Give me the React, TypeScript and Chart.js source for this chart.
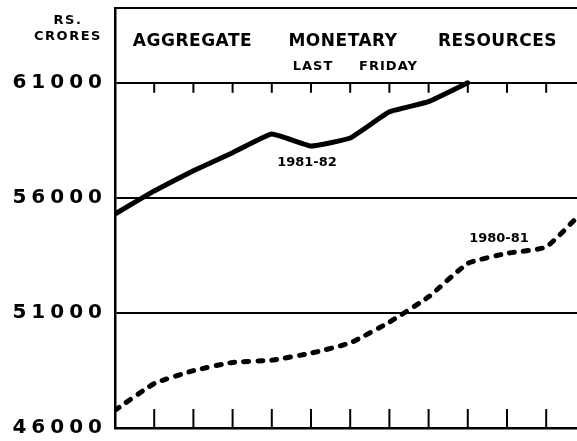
import React, { useEffect, useRef } from "react";
import { Chart, registerables } from "chart.js";

Chart.register(...registerables);

// Months of the financial year (April to April); only used as the x positions.
const months = ["Apr", "May", "Jun", "Jul", "Aug", "Sep", "Oct", "Nov", "Dec", "Jan", "Feb", "Mar", "Apr"];

// Aggregate monetary resources, Rs. crores (last Friday of each month)
const series8182 = [55300, 56300, 57180, 57960, 58770, 58250, 58600, 59740, 60180, 61000];
const series8081 = [46770, 47930, 48490, 48850, 48950, 49250, 49700, 50600, 51700, 53150, 53590, 53870, 55530];

const yTicks = [46000, 51000, 56000, 61000];
const yMin = 46000;
const yMax = 64250;
const xVisibleMax = 11.786;

const titleWords = ["AGGREGATE", "MONETARY", "RESOURCES"];
const titleX = [1.977, 5.816, 9.758];
const titleY = 62790;
const subWords = ["LAST", "FRIDAY"];
const subX = [5.05, 6.977];
const subY = 61690;
const seriesLabels = ["1981-82", "1980-81"];
const seriesLabelX = [4.898, 9.796];
const seriesLabelY = [57513, 54208];
const unitLines = ["RS.", "CRORES"];
const unitY = [63690, 62990];

const FONT = "'DejaVu Sans', sans-serif";

export default function App() {
  const ref = useRef<HTMLCanvasElement | null>(null);

  useEffect(() => {
    if (!ref.current) return;

    const textPlugin = {
      id: "decor",
      beforeDraw(chart: any) {
        (chart.ctx as any).letterSpacing = "5px";
      },
      beforeDatasetsDraw(chart: any) {
        const ctx = chart.ctx;
        const xs = chart.scales.x;
        const ys = chart.scales.y;
        const area = chart.chartArea;
        ctx.save();
        ctx.strokeStyle = "#000";
        ctx.lineWidth = 2;
        const y61 = ys.getPixelForValue(61000);
        for (let i = 1; i < months.length - 1; i++) {
          const px = xs.getPixelForValue(i);
          ctx.beginPath();
          ctx.moveTo(px, y61);
          ctx.lineTo(px, y61 + 10);
          ctx.stroke();
          ctx.beginPath();
          ctx.moveTo(px, area.bottom);
          ctx.lineTo(px, area.bottom - 19);
          ctx.stroke();
        }
        ctx.restore();
      },
      afterDraw(chart: any) {
        const ctx = chart.ctx;
        const xs = chart.scales.x;
        const ys = chart.scales.y;
        const area = chart.chartArea;
        ctx.save();
        ctx.fillStyle = "#000";
        ctx.textAlign = "center";
        ctx.textBaseline = "middle";

        ctx.font = `bold 17px ${FONT}`;
        ctx.letterSpacing = "0.5px";
        titleWords.forEach((w, i) => {
          ctx.fillText(w, xs.getPixelForValue(titleX[i]), ys.getPixelForValue(titleY));
        });

        ctx.font = `bold 13px ${FONT}`;
        ctx.letterSpacing = "1px";
        subWords.forEach((w, i) => {
          ctx.fillText(w, xs.getPixelForValue(subX[i]), ys.getPixelForValue(subY));
        });

        ctx.font = `bold 13px ${FONT}`;
        ctx.letterSpacing = "0px";
        seriesLabels.forEach((w, i) => {
          ctx.fillText(w, xs.getPixelForValue(seriesLabelX[i]), ys.getPixelForValue(seriesLabelY[i]));
        });

        ctx.font = `bold 13px ${FONT}`;
        ctx.letterSpacing = "1.5px";
        unitLines.forEach((w, i) => {
          ctx.fillText(w, area.left - 47, ys.getPixelForValue(unitY[i]));
        });
        ctx.restore();
        (ctx as any).letterSpacing = "0px";
      },
    };

    const chart = new Chart(ref.current, {
      type: "line",
      data: {
        datasets: [
          {
            label: seriesLabels[0],
            data: series8182.map((v, i) => ({ x: i, y: v })),
            borderColor: "#000",
            borderWidth: 5,
            pointRadius: 0,
            tension: 0.1,
            borderCapStyle: "round",
            borderJoinStyle: "round",
            fill: false,
          },
          {
            label: seriesLabels[1],
            data: series8081.map((v, i) => ({ x: i, y: v })),
            borderColor: "#000",
            borderWidth: 5,
            borderDash: [5, 9],
            borderCapStyle: "round",
            borderJoinStyle: "round",
            pointRadius: 0,
            tension: 0.15,
            fill: false,
          },
        ],
      },
      options: {
        responsive: false,
        animation: false,
        devicePixelRatio: 1,
        layout: { padding: { top: 8, bottom: 13, left: 0, right: 0 } },
        plugins: {
          legend: { display: false },
          tooltip: { enabled: false },
          title: { display: false },
        },
        scales: {
          x: {
            type: "linear",
            position: "bottom",
            min: 0,
            max: xVisibleMax,
            ticks: { display: false },
            grid: { display: false, drawTicks: false },
            border: { display: true, color: "#000", width: 2.5 },
            afterFit: (s: any) => {
              s.height = 0;
              s.paddingLeft = 0;
              s.paddingRight = 0;
            },
          },
          xTop: {
            type: "linear",
            position: "top",
            min: 0,
            max: xVisibleMax,
            ticks: { display: false },
            grid: { display: false, drawTicks: false },
            border: { display: true, color: "#000", width: 2 },
            afterFit: (s: any) => {
              s.height = 0;
              s.paddingLeft = 0;
              s.paddingRight = 0;
            },
          },
          y: {
            type: "linear",
            position: "left",
            min: yMin,
            max: yMax,
            afterBuildTicks: (s: any) => {
              s.ticks = yTicks.map((v) => ({ value: v }));
            },
            afterFit: (s: any) => {
              s.width = 115;
              s.paddingTop = 0;
              s.paddingBottom = 0;
            },
            ticks: {
              color: "#000",
              padding: 8,
              font: { family: FONT, size: 20, weight: "bold" },
              callback: (v: any) => String(v),
            },
            grid: { color: "#000", lineWidth: 2, drawTicks: false },
            border: { display: true, color: "#000", width: 2.5 },
          },
        },
      },
      plugins: [textPlugin],
    } as any);

    return () => chart.destroy();
  }, []);

  return (
    <div style={{ position: "fixed", left: 0, top: 0, width: 577, height: 441, background: "#fff" }}>
      <canvas ref={ref} width={577} height={441} style={{ display: "block" }} />
    </div>
  );
}
